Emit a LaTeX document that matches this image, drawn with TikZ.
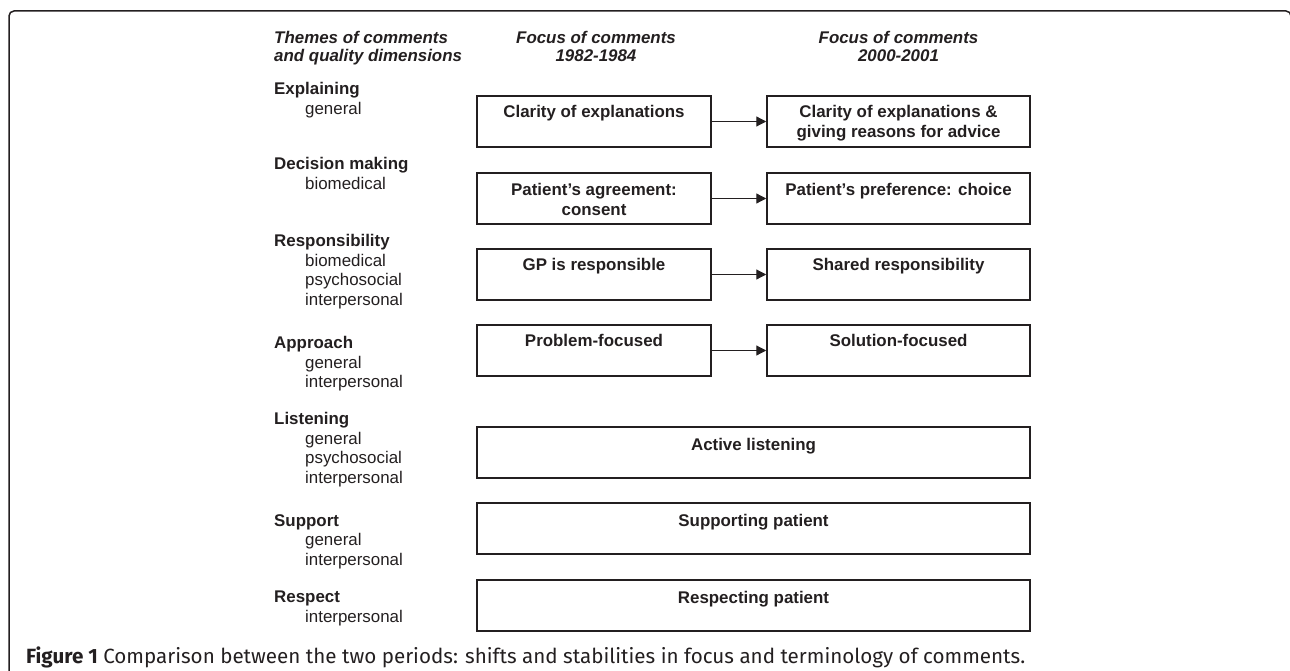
\documentclass[tikz,border=0pt]{standalone}
\usepackage{fontspec}
\setmainfont{Liberation Sans}
\newfontfamily\capfont{Fira Sans}
\usetikzlibrary{arrows.meta}
\definecolor{ink}{RGB}{35,31,32}
\begin{document}
\begin{tikzpicture}[x=1pt,y=-1pt,
  box/.style={draw=ink, line width=1.5pt, minimum width=234pt, minimum height=51pt, inner sep=0pt},
  rbox/.style={box, minimum width=263pt},
  wbox/.style={box, minimum width=553pt},
  btext/.style={anchor=north, inner sep=0pt, align=center, text=ink, font=\bfseries\fontsize{16.9}{20}\selectfont},
  theme/.style={anchor=north west, inner sep=0pt, align=left, text=ink, font=\fontsize{16.9}{19.6}\selectfont},
  head/.style={anchor=north, inner sep=0pt, align=center, text=ink, font=\bfseries\itshape\fontsize{16.9}{18}\selectfont},
  conn/.style={draw=ink, line width=1.2pt, -{Triangle[length=10pt,width=10pt]}},
]
\useasboundingbox (0,0) rectangle (1290,671);
\clip (0,0) rectangle (1290,671);
% frame
\draw[ink, line width=1.5pt, rounded corners=5pt] (9,690) -- (9,11) -- (1291,11) -- (1291,690);

% headers
\node[head, anchor=north west, align=left] (h1) at (274,31) {Themes of comments\\and quality dimensions};
\node[head] (h2) at (596,31) {Focus of comments\\1982-1984};
\node[head] (h3) at (898.5,31) {Focus of comments\\2000-2001};

% themes
\node[theme] (th1) at (274,82) {\textbf{Explaining}\\\hspace*{31pt}general};
\node[theme] (th2) at (274,157) {\textbf{Decision making}\\\hspace*{31pt}biomedical};
\node[theme] (th3) at (274,234) {\textbf{Responsibility}\\\hspace*{31pt}biomedical\\\hspace*{31pt}psychosocial\\\hspace*{31pt}interpersonal};
\node[theme] (th4) at (274,336) {\textbf{Approach}\\\hspace*{31pt}general\\\hspace*{31pt}interpersonal};
\node[theme] (th5) at (274,412) {\textbf{Listening}\\\hspace*{31pt}general\\\hspace*{31pt}psychosocial\\\hspace*{31pt}interpersonal};
\node[theme] (th6) at (274,514) {\textbf{Support}\\\hspace*{31pt}general\\\hspace*{31pt}interpersonal};
\node[theme] (th7) at (274,591) {\textbf{Respect}\\\hspace*{31pt}interpersonal};

% boxes
\node[box] (l1) at (594,121.5) {};
\node[box] (l2) at (594,198.5) {};
\node[box] (l3) at (594,274.5) {};
\node[box] (l4) at (594,350.5) {};
\node[rbox] (r1) at (898.5,121.5) {};
\node[rbox] (r2) at (898.5,198.5) {};
\node[rbox] (r3) at (898.5,274.5) {};
\node[rbox] (r4) at (898.5,350.5) {};
\node[wbox] (w1) at (753.5,452.5) {};
\node[wbox] (w2) at (753.5,528.5) {};
\node[wbox] (w3) at (753.5,605.5) {};

% box texts
\node[btext] (tl1) at ([yshift=-10pt]l1.north) {Clarity of explanations};
\node[btext] (tl2) at ([yshift=-11pt]l2.north) {Patient's agreement:\\consent};
\node[btext] (tl3) at ([yshift=-10pt]l3.north) {GP is responsible};
\node[btext] (tl4) at ([yshift=-10pt]l4.north) {Problem-focused};
\node[btext] (tr1) at ([yshift=-10pt]r1.north) {Clarity of explanations \&\\giving reasons for advice};
\node[btext] (tr2) at ([yshift=-11pt]r2.north) {Patient's preference: choice};
\node[btext] (tr3) at ([yshift=-10pt]r3.north) {Shared responsibility};
\node[btext] (tr4) at ([yshift=-10pt]r4.north) {Solution-focused};
\node[btext] (tw1) at ([yshift=-12pt]w1.north) {Active listening};
\node[btext] (tw2) at ([yshift=-12pt]w2.north) {Supporting patient};
\node[btext] (tw3) at ([yshift=-12pt]w3.north) {Respecting patient};

% connectors
\draw[conn] (l1.east) -- (r1.west);
\draw[conn] (l2.east) -- (r2.west);
\draw[conn] (l3.east) -- (r3.west);
\draw[conn] (l4.east) -- (r4.west);

% caption
\node[anchor=base west, inner sep=0pt, text=ink, font=\capfont\fontsize{20.6}{24}\selectfont] (cap) at (26,663) {\textbf{Figure 1} Comparison between the two periods: shifts and stabilities in focus and terminology of comments.};
\end{tikzpicture}
\end{document}
